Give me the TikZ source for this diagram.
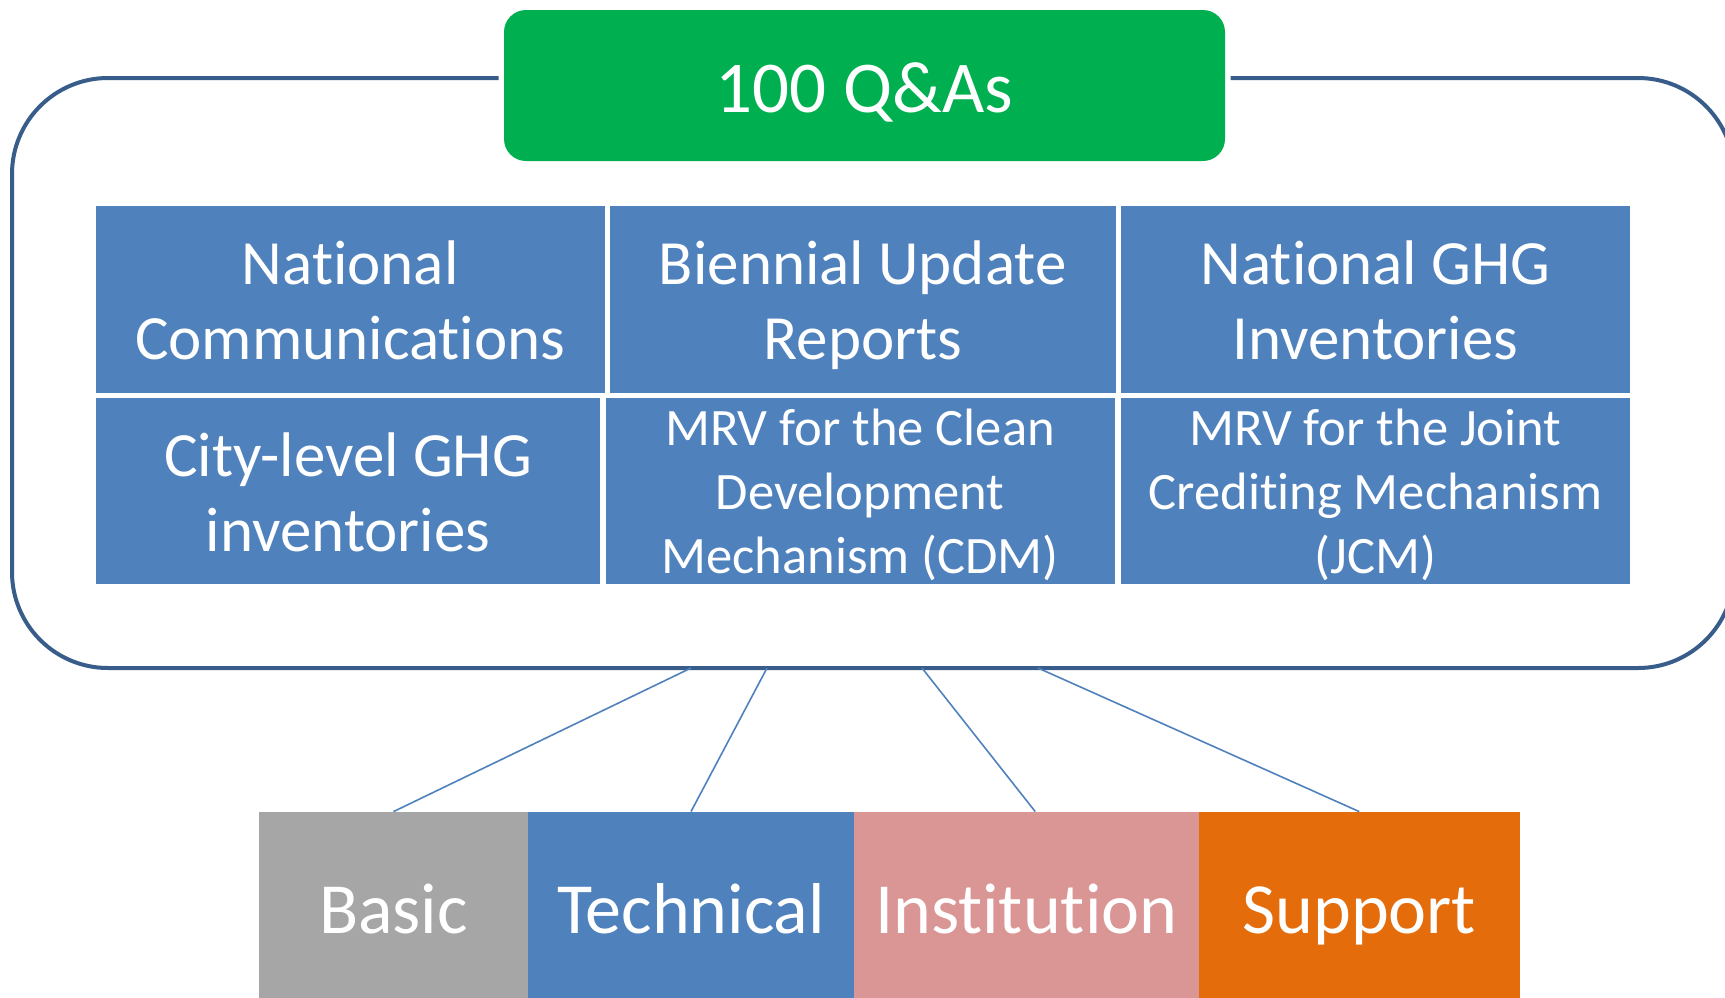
\documentclass[tikz,border=0pt]{standalone}
\usepackage{fontspec}
\setmainfont{Carlito}[Ligatures={NoCommon}]
\definecolor{cellblue}{HTML}{4F81BD}
\definecolor{qgreen}{HTML}{00B050}
\definecolor{framec}{HTML}{385D8A}
\definecolor{basicg}{HTML}{A6A6A6}
\definecolor{instp}{HTML}{D99694}
\definecolor{supo}{HTML}{E46C0A}
\begin{document}
\begin{tikzpicture}[x=0.5pt,y=-0.5pt,
  cell/.style={fill=cellblue,text=white,inner sep=0pt,align=center,
    font=\fontsize{31.5}{37.5}\selectfont,text height=60pt,text depth=0pt},
  smallcell/.style={cell,font=\fontsize{26.3}{32}\selectfont,text height=82pt,text depth=0pt},
  cat/.style={inner sep=0pt,text=white,minimum height=96.5pt,
    font=\fontsize{36}{43}\selectfont,text height=24.5pt,text depth=0pt},
  link/.style={draw=cellblue,line width=0.8pt}]
\useasboundingbox (0,0) rectangle (1725,997);
% outer frame (open at the top around the title)
\draw[framec,line width=2pt,rounded corners=48pt]
  (498.6,78) -- (12,78) -- (12,668) -- (1734,668) -- (1734,78) -- (1230.7,78);
% title
\node[fill=qgreen,rounded corners=11pt,minimum width=360.5pt,minimum height=75.5pt,
  inner sep=0pt,text=white,font=\fontsize{36.5}{44}\selectfont,
  text height=26.5pt,text depth=0pt] (title) at (864.5,85.5) {100 Q\&As};
% cells row 1
\node[cell,minimum width=254.25pt,minimum height=93.5pt] (nc) at (350.25,299.5) {National\\Communications};
\node[cell,minimum width=252.75pt,minimum height=93.5pt] (bur) at (862.75,299.5) {Biennial Update\\Reports};
\node[cell,minimum width=254.5pt,minimum height=93.5pt] (ghg) at (1375.5,299.5) {National GHG\\Inventories};
% cells row 2
\node[cell,minimum width=252pt,minimum height=93pt] (city) at (348,491) {City-level GHG\\inventories};
\node[smallcell,minimum width=254.5pt,minimum height=93pt] (cdm) at (860,491) {MRV for the Clean\\Development\\Mechanism (CDM)};
\node[smallcell,minimum width=254.5pt,minimum height=93pt] (jcm) at (1375.5,491) {MRV for the Joint\\Crediting Mechanism\\(JCM)};
% categories
\node[cat,fill=basicg,minimum width=134.5pt] (basic) at (393.5,908.5) {Basic};
\node[cat,fill=cellblue,minimum width=163pt] (tech) at (691,908.5) {Technical};
\node[cat,fill=instp,minimum width=172.25pt] (inst) at (1026.25,908.5) {Institution};
\node[cat,fill=supo,minimum width=160.75pt] (sup) at (1359.25,908.5) {Support};
% connectors
\coordinate (c1) at (691,668);
\coordinate (c2) at (767,668);
\coordinate (c3) at (922,668);
\coordinate (c4) at (1038,668);
\draw[link] (c1) -- (basic.north);
\draw[link] (c2) -- (tech.north);
\draw[link] (c3) -- ([xshift=4.5pt]inst.north);
\draw[link] (c4) -- (sup.north);
\end{tikzpicture}
\end{document}
